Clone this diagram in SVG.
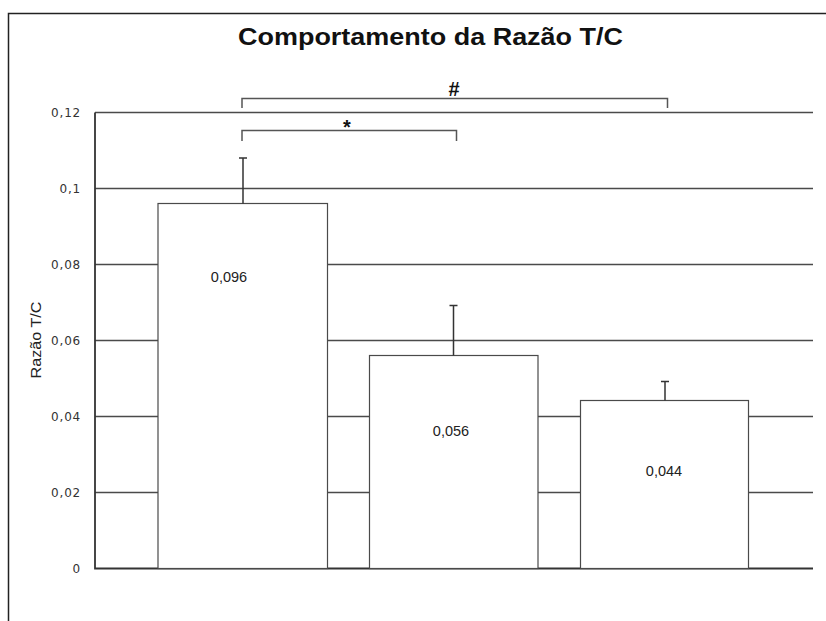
<svg xmlns="http://www.w3.org/2000/svg" width="826" height="621" viewBox="0 0 826 621">
<style>
.grid{stroke:#4a4a4a;stroke-width:1.5;fill:none}
.bar{fill:#ffffff;stroke:#4a4a4a;stroke-width:1.2}
.err{stroke:#333;stroke-width:1.5;fill:none}
.brk{stroke:#555;stroke-width:1.5;fill:none}
.tick{font-family:"DejaVu Sans",Verdana,sans-serif;font-size:12px;letter-spacing:0.8px;fill:#333;text-anchor:end}
.val{font-family:"Liberation Sans",Arial,sans-serif;font-size:14.5px;fill:#222;text-anchor:middle}
.ax{font-family:"Liberation Sans",Arial,sans-serif;font-size:14px;fill:#222;text-anchor:middle}
.title{font-family:"Liberation Sans",Arial,sans-serif;font-size:23px;font-weight:bold;fill:#111;text-anchor:middle}
.sym{font-family:"Liberation Sans",Arial,sans-serif;font-size:20px;font-weight:bold;fill:#111;text-anchor:middle}
</style>
<rect x="0" y="0" width="826" height="621" fill="#ffffff"/>
<g id="frame">
<path d="M8.5,621 V13.5 H826" stroke="#222" stroke-width="1.5" fill="none"/>
</g>
<g id="title">
<text class="title" x="430.5" y="45" textLength="385" lengthAdjust="spacingAndGlyphs">Comportamento da Razão T/C</text>
</g>
<g id="axes">
<path class="grid" d="M95,112.5 H813 M95,188.5 H813 M95,264.5 H813 M95,340.5 H813 M95,416.5 H813 M95,492.5 H813"/>
<path d="M95,112.5 V568.5 H813" stroke="#333" stroke-width="1.8" fill="none"/>
<text class="tick" x="81" y="117">0,12</text>
<text class="tick" x="81" y="193">0,1</text>
<text class="tick" x="81" y="269">0,08</text>
<text class="tick" x="81" y="345">0,06</text>
<text class="tick" x="81" y="421">0,04</text>
<text class="tick" x="81" y="497">0,02</text>
<text class="tick" x="81" y="573">0</text>
<text class="ax" x="41" y="340" transform="rotate(-90 41 340)" textLength="77" lengthAdjust="spacingAndGlyphs">Razão T/C</text>
</g>
<g id="bar1">
<rect class="bar" x="158" y="203.5" width="169.5" height="365"/>
<path class="err" d="M243,203.5 V158 M239,158 H247"/>
<text class="val" x="229" y="282">0,096</text>
</g>
<g id="bar2">
<rect class="bar" x="369.5" y="355.5" width="168.5" height="213"/>
<path class="err" d="M453.5,355.5 V305.5 M449.5,305.5 H457.5"/>
<text class="val" x="451" y="436">0,056</text>
</g>
<g id="bar3">
<rect class="bar" x="580.5" y="400.5" width="168" height="168"/>
<path class="err" d="M665,400.5 V381.5 M661,381.5 H669"/>
<text class="val" x="664" y="476">0,044</text>
</g>
<g id="connectors">
<path class="brk" d="M242,108 V98.5 H667.5 V108"/>
<path class="brk" d="M242,141 V130.5 H456.5 V141"/>
<text class="sym" x="454" y="96">#</text>
<text class="sym" x="347" y="134">*</text>
</g>
</svg>
